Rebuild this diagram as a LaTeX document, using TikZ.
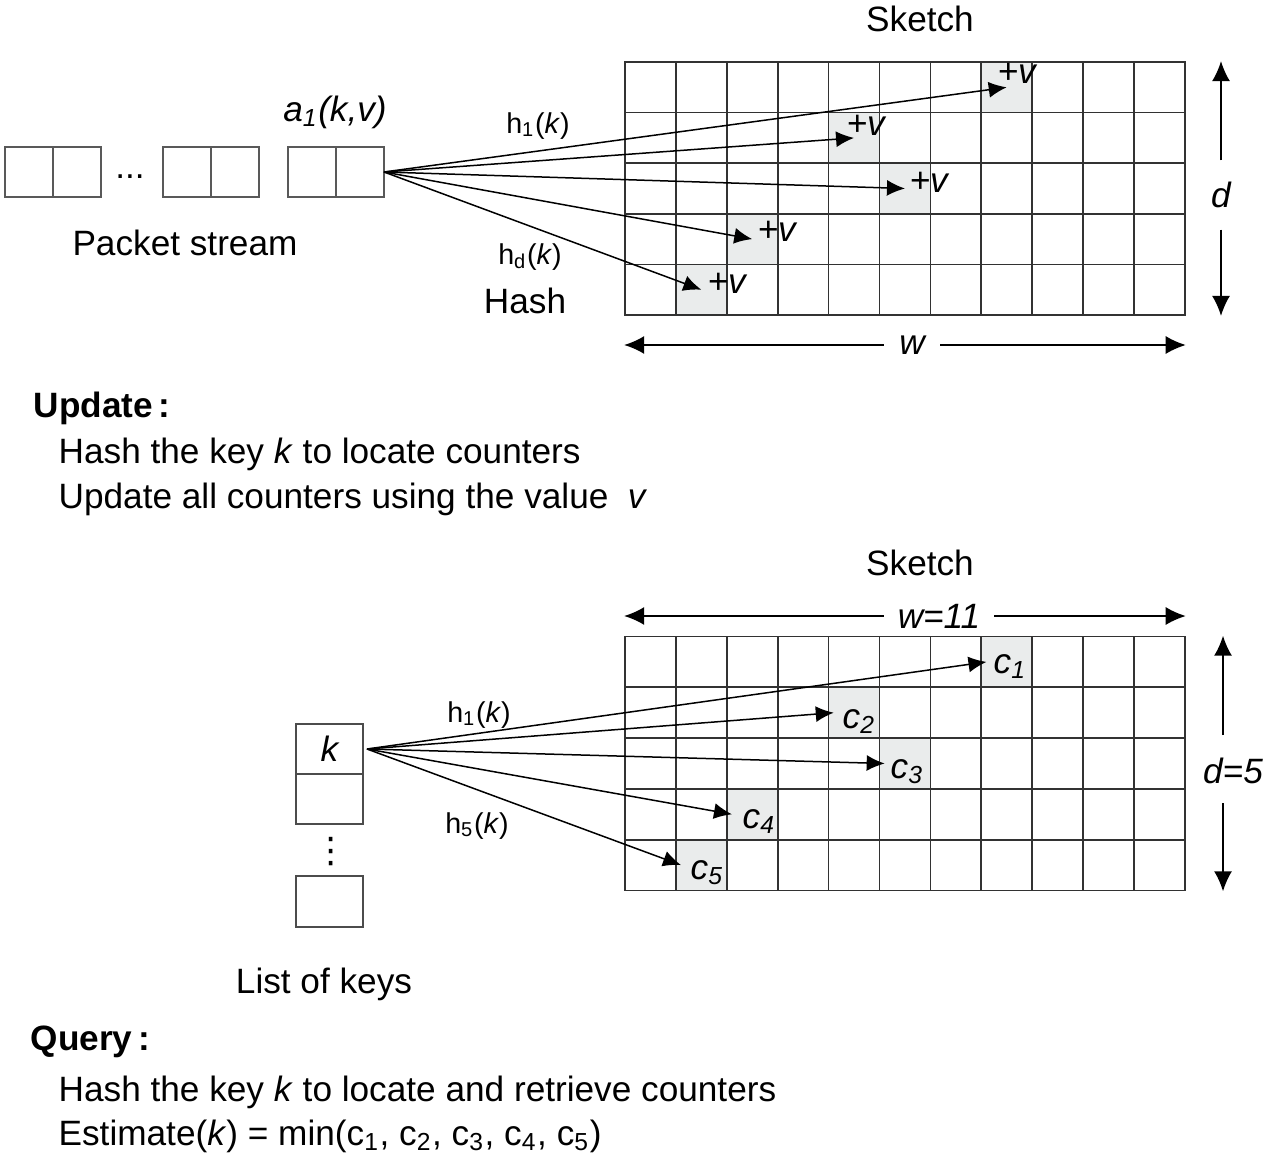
\documentclass[tikz,border=0pt]{standalone}
\usepackage{fontspec}
\setmainfont{Liberation Sans}
\newfontfamily\symfont{DejaVu Sans}
\usepackage{tikz}
\usetikzlibrary{arrows.meta,positioning,calc,backgrounds}
\definecolor{cellgray}{RGB}{234,236,236}
\definecolor{gridline}{RGB}{50,50,50}
\tikzstyle{cell} = [draw=gridline, line width=0.5pt, inner sep=0pt, minimum width=15.27pt, minimum height=15.2pt]
\tikzstyle{pkt} = [draw=black!65, line width=0.5pt, inner sep=0pt, outer sep=0pt, minimum width=14.4pt, minimum height=15pt]
\tikzstyle{keybox} = [draw=black!70, line width=0.5pt, inner sep=0pt, outer sep=0pt, minimum width=20.1pt, minimum height=15pt, font=\fontsize{10.56}{12}\selectfont\itshape]
\tikzstyle{textonly} = [draw=none, fill=none, inner sep=0pt, font=\fontsize{10.56}{12}\selectfont]
\tikzstyle{hashlabel} = [textonly, font=\fontsize{8.6}{10}\selectfont]
\tikzstyle{dimlabel} = [textonly, font=\fontsize{10.56}{12}\selectfont\itshape]
\tikzstyle{tedge} = [draw, line width=0.45pt, -{Latex[length=5.4pt,width=4.8pt]}]
\tikzstyle{dimedge} = [draw, line width=0.45pt, -{Latex[length=6pt,width=5.4pt]}]

\begin{document}
\begin{tikzpicture}[x=0.3pt, y=-0.3pt]
\useasboundingbox (0,0) rectangle (1280,1163);

% sketches =============================
\foreach \r in {1,...,5}{
  \foreach \c in {1,...,11}{
    \node[cell] (u-\r-\c) at ({625+(\c-0.5)*50.9},{62+(\r-0.5)*50.6}) {};
    \node[cell] (q-\r-\c) at ({625+(\c-0.5)*50.9},{636.5+(\r-0.5)*50.8}) {};
  }
}
\begin{scope}[on background layer]
\foreach \r/\c in {1/8,2/5,3/6,4/3,5/2}{
  \fill[cellgray] (u-\r-\c.south west) rectangle (u-\r-\c.north east);
  \fill[cellgray] (q-\r-\c.south west) rectangle (q-\r-\c.north east);
}
\end{scope}
\node[textonly, anchor=base] (sketchu) at (920,32) {Sketch};
\node[textonly, anchor=base] (sketchq) at (920,575) {Sketch};

% update part =============================
\node[pkt] (s1a) at (29,172) {};
\node[pkt, right=0pt of s1a] (s1b) {};
\node[textonly, anchor=base] (sdots) at (130,178) {...};
\node[pkt] (s2a) at (187,172) {};
\node[pkt, right=0pt of s2a] (s2b) {};
\node[pkt] (a1a) at (312,172) {};
\node[pkt, right=0pt of a1a] (a1b) {};
\node[textonly, anchor=base] (a1lab) at (335,121) {\itshape a\textsubscript{1}(k,v)};
\node[textonly, anchor=base] (stream) at (185,255) {Packet stream};
\node[hashlabel, anchor=base] (h1u) at (538,133) {h\textsubscript{1}(\textit{k})};
\node[hashlabel, anchor=base] (hdu) at (530,264) {h\textsubscript{d}(\textit{k})};
\node[textonly, anchor=base] (hash) at (525,313) {Hash};

\foreach \r/\c in {1/8,2/5,3/6,4/3,5/2}
  \path[tedge] (a1b.east) -- (u-\r-\c.center);
\node[textonly, anchor=base west] (pv1) at (997,83) {\itshape +v};
\node[textonly, anchor=base west] (pv2) at (846,135) {\itshape +v};
\node[textonly, anchor=base west] (pv3) at (909,192) {\itshape +v};
\node[textonly, anchor=base west] (pv4) at (757,241) {\itshape +v};
\node[textonly, anchor=base west] (pv5) at (707,293) {\itshape +v};

\node[dimlabel, inner xsep=4.5pt] (wu) at (912,345) {w};
\path[dimedge] (wu.west) -- (wu.west -| u-5-1.west);
\path[dimedge] (wu.east) -- (wu.east -| u-5-11.east);
\node[dimlabel, inner ysep=6.3pt] (du) at (1221,195) {d};
\path[dimedge] (du.north) -- (du.north |- u-1-11.north);
\path[dimedge] (du.south) -- (du.south |- u-5-11.south);

\node[textonly, anchor=base west, font=\fontsize{10.56}{12}\selectfont\bfseries] (updhead) at (33,417) {Update\,:};
\node[textonly, anchor=base west] (upd1) at (58,463) {Hash the key \textit{k} to locate counters};
\node[textonly, anchor=base west] (upd2) at (58,508) {Update all counters using the value\hspace{0.55em}\textit{v}};

% query part =============================
\node[keybox] (kbox) at (329.5,749) {k};
\node[keybox, below=0pt of kbox] (kbox2) {};
\node[textonly, font=\fontsize{10.56}{12}\symfont] (kdots) at (331,852) {⋮};
\node[keybox, minimum height=15.3pt] (kbox3) at (329.5,901.5) {};
\node[textonly, anchor=base] (keylist) at (324,993) {List of keys};
\coordinate (ksrc) at ([xshift=1.2pt]kbox.east);
\node[hashlabel, anchor=base] (h1q) at (479,722) {h\textsubscript{1}(\textit{k})};
\node[hashlabel, anchor=base] (h5q) at (477,833) {h\textsubscript{5}(\textit{k})};

\foreach \r/\c in {1/8,2/5,3/6,4/3,5/2}
  \path[tedge] (ksrc) -- ($(q-\r-\c.west)+(6,0)$);
\node[textonly, anchor=base west] (c1) at (993,673) {\itshape c\textsubscript{1}};
\node[textonly, anchor=base west] (c2) at (842,728) {\itshape c\textsubscript{2}};
\node[textonly, anchor=base west] (c3) at (890,778) {\itshape c\textsubscript{3}};
\node[textonly, anchor=base west] (c4) at (742,828) {\itshape c\textsubscript{4}};
\node[textonly, anchor=base west] (c5) at (690,879) {\itshape c\textsubscript{5}};

\node[dimlabel, inner xsep=4pt] (wq) at (939,616) {w=11};
\path[dimedge] (wq.west) -- (wq.west -| q-1-1.west);
\path[dimedge] (wq.east) -- (wq.east -| q-1-11.east);
\node[dimlabel] (dq) at (1233,771) {d=5};
\coordinate (dqup) at (1223,735);
\coordinate (dqdown) at (1223,803);
\path[dimedge] (dqup) -- (dqup |- q-1-11.north);
\path[dimedge] (dqdown) -- (dqdown |- q-5-11.south);

\node[textonly, anchor=base west, font=\fontsize{10.56}{12}\selectfont\bfseries] (qryhead) at (30,1050) {Query\,:};
\node[textonly, anchor=base west] (qry1) at (58,1101) {Hash the key \textit{k} to locate and retrieve counters};
\node[textonly, anchor=base west] (qry2) at (58,1145) {Estimate(\textit{k}) = min(c\textsubscript{1}, c\textsubscript{2}, c\textsubscript{3}, c\textsubscript{4}, c\textsubscript{5})};

\end{tikzpicture}
\end{document}
